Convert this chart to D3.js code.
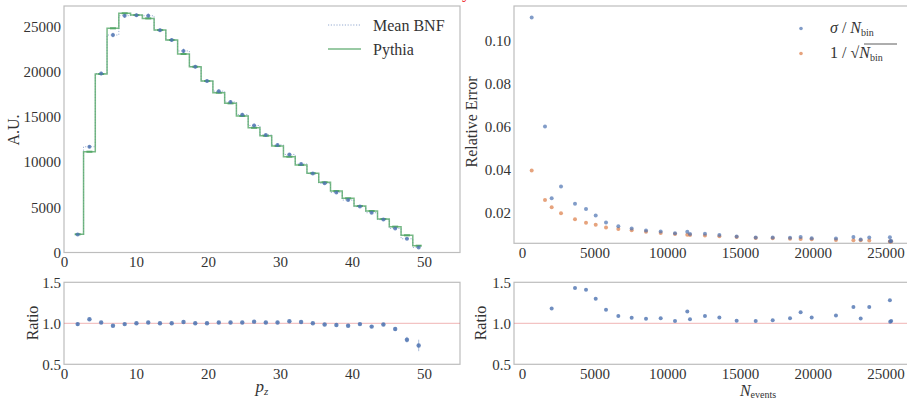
<!DOCTYPE html>
<html>
<head>
<meta charset="utf-8">
<script src="https://cdn.jsdelivr.net/npm/d3@7"></script>
<style>
  body { margin: 0; background: #fff; }
  svg { display: block; font-family: "Liberation Serif", "DejaVu Serif", serif; }
</style>
</head>
<body>
<svg width="907" height="400"></svg>
<script>
// left: p_z histogram
const binCenters = [1.9, 3.53, 5.16, 6.8, 8.43, 10.06, 11.7, 13.33, 14.96, 16.6, 18.23, 19.86, 21.5, 23.13, 24.76,
  26.4, 28.03, 29.66, 31.3, 32.93, 34.56, 36.2, 37.83, 39.46, 41.1, 42.73, 44.36, 46.0, 47.63, 49.26];
const pythia = [2013, 11150, 19750, 24800, 26460, 26270, 25900, 24610, 23510, 21960, 20550, 18970, 17680, 16500, 15100,
  13800, 12920, 11780, 10600, 9680, 8760, 7765, 6800, 5990, 5140, 4590, 3700, 2860, 1900, 750];
const meanBNF = [1990, 11700, 19800, 24060, 26200, 26250, 26190, 24600, 23500, 22300, 20550, 18970, 17850, 16650, 15250,
  14050, 13000, 11900, 10850, 9800, 8750, 7650, 6650, 5800, 5080, 4400, 3640, 2660, 1520, 550];
const meanBNFErr = [60, 150, 200, 250, 250, 200, 250, 200, 200, 250, 200, 200, 200, 200, 200,
  200, 150, 150, 150, 150, 120, 120, 120, 120, 100, 100, 100, 80, 60, 50];
const ratioPz = [0.99, 1.05, 1.01, 0.97, 0.99, 1.0, 1.01, 1.0, 1.0, 1.015, 1.0, 1.0, 1.01, 1.01, 1.01,
  1.02, 1.01, 1.01, 1.025, 1.015, 1.0, 0.985, 0.98, 0.97, 0.99, 0.96, 0.985, 0.93, 0.80, 0.73];
const ratioPzErr = [0.02, 0.01, 0.01, 0.01, 0.01, 0.01, 0.01, 0.01, 0.01, 0.01, 0.01, 0.01, 0.01, 0.01, 0.01,
  0.01, 0.01, 0.01, 0.01, 0.01, 0.01, 0.01, 0.01, 0.012, 0.012, 0.015, 0.015, 0.02, 0.035, 0.07];

// right: relative error vs events
const nEvents = [674, 1589, 2048, 2690, 3652, 4409, 5076, 5785, 6632, 7550, 8536, 9545, 10530, 11376, 11561,
  12590, 13580, 14770, 16080, 17250, 18440, 19170, 19930, 21600, 22800, 23300, 23890, 25310, 25330, 25400];
const sigmaOverN = [0.1106, 0.0600, 0.0267, 0.0321, 0.0241, 0.0216, 0.0186, 0.0154, 0.0136, 0.0126, 0.0117, 0.0112, 0.0104, 0.0111, 0.0101,
  0.0102, 0.0096, 0.0089, 0.0084, 0.0084, 0.0083, 0.0087, 0.0081, 0.0080, 0.0086, 0.0075, 0.0084, 0.0085, 0.0067, 0.0068];
const invSqrtN = [0.0395, 0.0258, 0.0225, 0.0197, 0.0169, 0.0153, 0.0143, 0.0131, 0.0124, 0.0118, 0.0111, 0.0105, 0.0101, 0.0097, 0.0096,
  0.0094, 0.0090, 0.0086, 0.0082, 0.0081, 0.0078, 0.0077, 0.0076, 0.0073, 0.0072, 0.0071, 0.0070, 0.0066, 0.0066, 0.0066];
const ratioN = [null, null, 1.18, null, 1.43, 1.41, 1.30, 1.165, 1.09, 1.067, 1.055, 1.063, 1.028, 1.143, 1.048,
  1.09, 1.07, 1.03, 1.028, 1.036, 1.063, 1.135, 1.07, 1.095, 1.20, 1.06, 1.20, 1.28, 1.02, 1.028];

const pzTicks = [0, 10, 20, 30, 40, 50];
const auTicks = [0, 5000, 10000, 15000, 20000, 25000];
const relTicks = [0.02, 0.04, 0.06, 0.08, 0.10];
const nTicks = [0, 5000, 10000, 15000, 20000, 25000];
const ratioTicks = [0.5, 1.0, 1.5];

const blue = "#4c72b0", orange = "#dd8452", green = "#55a868";
const spine = "#bdbdbd", textCol = "#333";
const serif = '"Liberation Serif", "DejaVu Serif", serif';

const svg = d3.select("svg");

// fragment of a red title cut off by the top edge
svg.append("text").attr("x", 471).attr("y", -2).attr("text-anchor", "end")
  .attr("font-size", 18).attr("fill", "#e00").attr("fill-opacity", 0.8).text("accuracy");

// scales
const xPz = d3.scaleLinear().domain([0, 55]).range([64, 460]);
const yAU = d3.scaleLinear().domain([0, 27270]).range([252.5, 6]);
const yRatio = d3.scaleLinear().domain([0.5, 1.5]).range([364.3, 282.3]);
const xN = d3.scaleLinear().domain([-543, 26692]).range([514, 910]);
const yRel = d3.scaleLinear().domain([0.00573, 0.1159]).range([243.3, 6]);

function frame(x0, x1, y0, y1) {
  svg.append("rect").attr("x", x0).attr("y", y1).attr("width", x1 - x0).attr("height", y0 - y1)
    .attr("fill", "none").attr("stroke", spine).attr("stroke-width", 1.2);
}

function axes(xs, ys, xt, yt, xfmt, yfmt) {
  const [yb] = ys.range();
  const [xl] = xs.range();
  const gx = svg.append("g").attr("transform", `translate(0,${yb})`)
    .call(d3.axisBottom(xs).tickValues(xt).tickSize(0).tickPadding(3).tickFormat(xfmt));
  const gy = svg.append("g").attr("transform", `translate(${xl},0)`)
    .call(d3.axisLeft(ys).tickValues(yt).tickSize(0).tickPadding(3).tickFormat(yfmt));
  for (const g of [gx, gy]) {
    g.select(".domain").remove();
    g.selectAll("text").attr("font-family", serif).attr("font-size", 15).attr("fill", textCol);
  }
  gx.selectAll("text").attr("dy", "0.78em");
  return [gx, gy];
}

// ---- top left: histogram
frame(64, 460, 252.5, 6);
axes(xPz, yAU, pzTicks, auTicks, d3.format("d"), d3.format("d"));

const histIdx = d3.range(binCenters.length);
const stepLine = (vals) => d3.line().curve(d3.curveStep)
  .x(i => xPz(binCenters[i])).y(i => yAU(vals[i]));

// Mean BNF error bars
svg.append("g").selectAll("line").data(histIdx).join("line")
  .attr("x1", i => xPz(binCenters[i])).attr("x2", i => xPz(binCenters[i]))
  .attr("y1", i => yAU(meanBNF[i] - meanBNFErr[i])).attr("y2", i => yAU(meanBNF[i] + meanBNFErr[i]))
  .attr("stroke", blue).attr("stroke-opacity", 0.6).attr("stroke-width", 1);
svg.append("path").datum(histIdx).attr("d", stepLine(meanBNF))
  .attr("fill", "none").attr("stroke", blue).attr("stroke-opacity", 0.55)
  .attr("stroke-width", 1).attr("stroke-dasharray", "1.2,1.6");

// Pythia step
svg.append("path").datum(histIdx).attr("d", stepLine(pythia))
  .attr("fill", "none").attr("stroke", green).attr("stroke-opacity", 0.8).attr("stroke-width", 1.5);
svg.append("g").selectAll("line").data(histIdx).join("line")
  .attr("x1", i => xPz(binCenters[i]) - 3).attr("x2", i => xPz(binCenters[i]) + 3)
  .attr("y1", i => yAU(pythia[i])).attr("y2", i => yAU(pythia[i]))
  .attr("stroke", green).attr("stroke-width", 2);
svg.append("g").selectAll("circle").data(histIdx).join("circle")
  .attr("cx", i => xPz(binCenters[i])).attr("cy", i => yAU(meanBNF[i])).attr("r", 2)
  .attr("fill", blue).attr("fill-opacity", 0.8);

// legend
const lg = svg.append("g").attr("font-size", 16).attr("fill", textCol);
lg.append("line").attr("x1", 328).attr("x2", 361).attr("y1", 25).attr("y2", 25)
  .attr("stroke", blue).attr("stroke-opacity", 0.6).attr("stroke-dasharray", "1.2,1.6");
lg.append("line").attr("x1", 328).attr("x2", 361).attr("y1", 49).attr("y2", 49)
  .attr("stroke", green).attr("stroke-opacity", 0.8).attr("stroke-width", 1.5);
lg.append("text").attr("x", 373).attr("y", 31).text("Mean BNF");
lg.append("text").attr("x", 373).attr("y", 55).text("Pythia");

svg.append("text").attr("transform", "translate(19,130) rotate(-90)").attr("text-anchor", "middle")
  .attr("font-size", 16).attr("fill", textCol).text("A.U.");

// ---- bottom left: ratio vs p_z
frame(64, 460, 364.3, 282.3);
axes(xPz, yRatio, pzTicks, ratioTicks, d3.format("d"), d3.format(".1f"));
svg.append("line").attr("x1", 64).attr("x2", 460).attr("y1", yRatio(1)).attr("y2", yRatio(1))
  .attr("stroke", "#e06060").attr("stroke-opacity", 0.6).attr("stroke-width", 0.8);
svg.append("g").selectAll("line").data(histIdx).join("line")
  .attr("x1", i => xPz(binCenters[i])).attr("x2", i => xPz(binCenters[i]))
  .attr("y1", i => yRatio(ratioPz[i] - ratioPzErr[i])).attr("y2", i => yRatio(ratioPz[i] + ratioPzErr[i]))
  .attr("stroke", blue).attr("stroke-opacity", 0.45).attr("stroke-width", 1);
svg.append("g").selectAll("circle").data(histIdx).join("circle")
  .attr("cx", i => xPz(binCenters[i])).attr("cy", i => yRatio(ratioPz[i])).attr("r", 2.2)
  .attr("fill", blue).attr("fill-opacity", 0.85);
svg.append("text").attr("transform", "translate(38,323) rotate(-90)").attr("text-anchor", "middle")
  .attr("font-size", 16).attr("fill", textCol).text("Ratio");
svg.append("text").attr("x", 262).attr("y", 392).attr("text-anchor", "middle")
  .attr("font-size", 17).attr("font-style", "italic").attr("fill", textCol)
  .text("p").append("tspan").attr("font-size", 11).attr("dy", 3).text("z");

// ---- top right: relative error
frame(514, 910, 243.3, 6);
axes(xN, yRel, nTicks, relTicks, d3.format("d"), d3.format(".2f"));
const nIdx = d3.range(nEvents.length);
svg.append("g").selectAll("circle").data(nIdx).join("circle")
  .attr("cx", i => xN(nEvents[i])).attr("cy", i => yRel(invSqrtN[i])).attr("r", 2)
  .attr("fill", orange).attr("fill-opacity", 0.75);
svg.append("g").selectAll("circle").data(nIdx).join("circle")
  .attr("cx", i => xN(nEvents[i])).attr("cy", i => yRel(sigmaOverN[i])).attr("r", 2)
  .attr("fill", blue).attr("fill-opacity", 0.7);

const rl = svg.append("g").attr("font-size", 16).attr("fill", textCol);
rl.append("circle").attr("cx", 801).attr("cy", 28.5).attr("r", 1.8).attr("fill", blue).attr("fill-opacity", 0.7);
rl.append("circle").attr("cx", 801).attr("cy", 53.5).attr("r", 1.8).attr("fill", orange).attr("fill-opacity", 0.75);
const t1 = rl.append("text").attr("x", 830).attr("y", 33);
t1.append("tspan").attr("font-style", "italic").text("σ");
t1.append("tspan").text(" / ");
t1.append("tspan").attr("font-style", "italic").text("N");
t1.append("tspan").attr("font-size", 10).attr("dy", 3).text("bin");
const t2 = rl.append("text").attr("x", 830).attr("y", 58);
t2.append("tspan").text("1 / √");
t2.append("tspan").attr("font-style", "italic").text("N");
t2.append("tspan").attr("font-size", 10).attr("dy", 3).text("bin");
rl.append("line").attr("x1", 864).attr("x2", 897).attr("y1", 44).attr("y2", 44)
  .attr("stroke", textCol).attr("stroke-width", 0.8);

svg.append("text").attr("transform", "translate(477,122) rotate(-90)").attr("text-anchor", "middle")
  .attr("font-size", 16).attr("fill", textCol).text("Relative Error");

// ---- bottom right: ratio vs events
frame(514, 910, 364.3, 282.3);
axes(xN, yRatio, nTicks, ratioTicks, d3.format("d"), d3.format(".1f"));
svg.append("line").attr("x1", 514).attr("x2", 910).attr("y1", yRatio(1)).attr("y2", yRatio(1))
  .attr("stroke", "#e06060").attr("stroke-opacity", 0.6).attr("stroke-width", 0.8);
svg.append("g").selectAll("circle").data(nIdx.filter(i => ratioN[i] !== null)).join("circle")
  .attr("cx", i => xN(nEvents[i])).attr("cy", i => yRatio(ratioN[i])).attr("r", 2)
  .attr("fill", blue).attr("fill-opacity", 0.8);
svg.append("text").attr("transform", "translate(486,323) rotate(-90)").attr("text-anchor", "middle")
  .attr("font-size", 16).attr("fill", textCol).text("Ratio");
const ne = svg.append("text").attr("x", 758).attr("y", 396).attr("text-anchor", "middle")
  .attr("font-size", 16).attr("fill", textCol);
ne.append("tspan").attr("font-style", "italic").text("N");
ne.append("tspan").attr("font-size", 10).attr("dy", 2).text("events");
</script>
</body>
</html>
